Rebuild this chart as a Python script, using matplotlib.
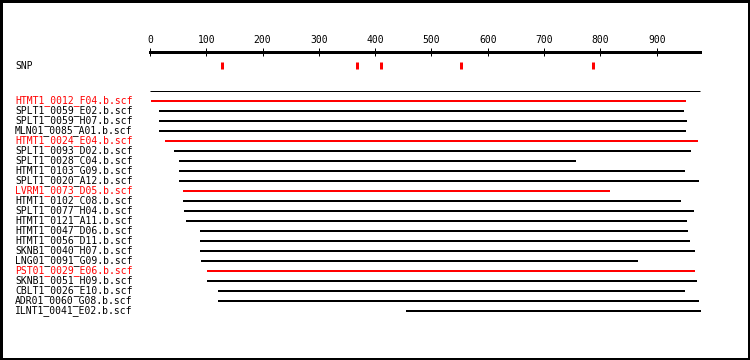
import matplotlib
matplotlib.use("Agg")
import matplotlib.pyplot as plt

# reads aligned to the reference sequence
names = ["HTMT1_0012_F04.b.scf", "SPLT1_0059_E02.b.scf", "SPLT1_0059_H07.b.scf",
         "MLN01_0085_A01.b.scf", "HTMT1_0024_E04.b.scf", "SPLT1_0093_D02.b.scf",
         "SPLT1_0028_C04.b.scf", "HTMT1_0103_G09.b.scf", "SPLT1_0020_A12.b.scf",
         "LVRM1_0073_D05.b.scf", "HTMT1_0102_C08.b.scf", "SPLT1_0077_H04.b.scf",
         "HTMT1_0121_A11.b.scf", "HTMT1_0047_D06.b.scf", "HTMT1_0056_D11.b.scf",
         "SKNB1_0040_H07.b.scf", "LNG01_0091_G09.b.scf", "PST01_0029_E06.b.scf",
         "SKNB1_0051_H09.b.scf", "CBLT1_0026_E10.b.scf", "ADR01_0060_G08.b.scf",
         "ILNT1_0041_E02.b.scf"]
starts = [2, 16, 16, 16, 27, 43, 52, 52, 52, 59, 59, 60, 64,
          89, 89, 89, 91, 101, 101, 121, 121, 455]
ends = [952, 948, 954, 952, 973, 961, 757, 950, 975, 817, 943, 966, 954,
        956, 959, 968, 867, 968, 972, 950, 975, 979]
highlight = ["HTMT1_0012_F04.b.scf", "HTMT1_0024_E04.b.scf",
             "LVRM1_0073_D05.b.scf", "PST01_0029_E06.b.scf"]

snp_pos = [127, 368, 411, 553, 786]
ref_len = 977
ticks = [0, 100, 200, 300, 400, 500, 600, 700, 800, 900]

PX = 0.72  # one pixel in points at dpi 100
FONT = "DejaVu Sans Mono"

fig = plt.figure(figsize=(7.5, 3.6), dpi=100)
fig.patch.set_facecolor("white")
fig.patch.set_edgecolor("black")
fig.patch.set_linewidth(3.6)

ax = fig.add_axes([0, 0, 1, 1])
ax.set_xlim(-150 / 0.563, 600 / 0.563)
ax.set_ylim(25.9, -10.1)
for s in ["left", "right", "bottom"]:
    ax.spines[s].set_visible(False)
ax.set_facecolor("none")

# ruler drawn as the top spine
ax.spines["top"].set_position(("data", -4.95))
ax.spines["top"].set_bounds(0, ref_len)
ax.spines["top"].set_linewidth(3 * PX)
ax.xaxis.set_ticks_position("top")
ax.set_xticks(ticks)
ax.set_xticklabels([str(t) for t in ticks], fontfamily=FONT, fontsize=7)
ax.tick_params(axis="x", direction="inout", length=8 * PX, width=PX, pad=2)
ax.set_yticks([])

ax.text(-239.8, -3.55, "SNP", fontfamily=FONT, fontsize=7, ha="left", va="center")
ax.vlines(snp_pos, -3.9, -3.2, colors="#ff0000", linewidth=3 * PX)

ax.hlines(-1.05, 0, ref_len, colors="black", linewidth=PX)

rows = list(range(len(names)))
colors = ["#ff0000" if n in highlight else "black" for n in names]
ax.hlines(rows, starts, ends, colors=colors, linewidth=2 * PX, capstyle="butt")
for r, n, c in zip(rows, names, colors):
    ax.text(-239.8, r - 0.05, n, fontfamily=FONT, fontsize=7, color=c, ha="left", va="center")

fig.savefig("out.png", dpi=100, facecolor=fig.get_facecolor(), edgecolor=fig.get_edgecolor())
